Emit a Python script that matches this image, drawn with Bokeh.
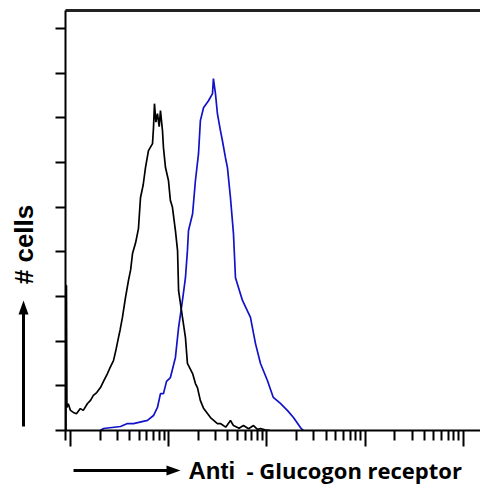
import math
from bokeh.plotting import figure
from bokeh.layouts import column, row
from bokeh.models import Range1d, FixedTicker, LinearAxis, ColumnDataSource
from bokeh.core.properties import value
from bokeh.embed import file_html
from bokeh.resources import INLINE

# ---- data ----
control_intensity = [0.90, 0.90, 0.91, 0.92, 0.95, 1.00, 1.07, 1.15, 1.26, 1.35, 1.49, 1.60, 1.71, 1.85,
                     2.02, 2.20, 2.38, 2.55, 2.74, 2.90, 3.08, 3.20, 3.38, 3.50, 3.63, 3.89, 4.10, 4.28,
                     4.60, 4.92, 5.16, 5.50, 5.80, 6.22, 6.84, 7.00, 7.16, 7.40, 7.68, 8.00, 8.24, 8.64,
                     8.84, 9.27, 9.94, 10.4, 10.9, 11.7, 12.3, 12.6, 13.8, 14.8, 15.5, 17.5, 18.7, 19.6,
                     21.0, 22.6, 24.8, 26.6, 31.3, 33.6, 38.0, 42.5, 45.6, 52.0, 57.6, 65.0, 72.9, 80.0,
                     85.9, 95.0, 108]
control_count = [0, 64.9, 64.9, 10.3, 12.0, 9.0, 8.1, 7.5, 9.8, 9.0, 12.1, 13.5, 15.7, 17.0,
                 19.2, 22.5, 25.5, 28.5, 31.3, 36.0, 41.6, 45.0, 50.6, 55.0, 59.5, 67.1, 72.0, 79.2,
                 84.0, 90.4, 104.2, 110.0, 117.7, 125.3, 128.4, 135.6, 146.3, 138.0, 141.8, 136.0, 143.2, 134.2,
                 126.6, 117.7, 111.9, 102.9, 100.0, 89.5, 80.5, 62.6, 50.6, 41.6, 30.0, 25.5, 21.0, 19.2,
                 13.4, 10.0, 7.6, 5.8, 3.1, 3.1, 1.5, 4.5, 2.2, 1.0, 2.2, 0.8, 2.2, 0.5,
                 0.9, 0.3, 0]

stained_intensity = [2.02, 2.17, 3.23, 3.80, 4.38, 6.08, 7.00, 7.68, 8.24, 8.84, 9.50, 10.4, 11.7, 12.6,
                     13.8, 14.8, 15.5, 15.9, 17.5, 18.7, 20.1, 21.0, 22.6, 25.4, 27.9, 28.5, 29.9, 31.3,
                     33.6, 35.2, 37.8, 39.6, 42.5, 45.6, 47.8, 56.3, 67.9, 76.4, 85.9, 101, 116, 137,
                     162, 186, 219, 235]
stained_count = [0, 0.9, 1.8, 3.1, 3.1, 4.5, 6.7, 10.3, 16.5, 16.5, 22.0, 23.7, 32.7, 46.1,
                 58.2, 68.4, 80.5, 89.5, 97.0, 111.9, 123.9, 138.7, 144.5, 147.6, 150.8, 157.5, 150.8, 141.8,
                 134.2, 129.7, 122.1, 117.7, 104.2, 88.1, 68.4, 58.2, 50.6, 38.9, 30.0, 22.4, 14.8, 12.1,
                 8.9, 5.8, 1.3, 0]

x_major_ticks = [1, 10, 100, 1000, 10000]
x_minor_multipliers = [2, 3, 4, 5, 6, 7, 8, 9]
x_extra_minor = [0.9]
y_ticks = [0, 20, 40, 60, 80, 100, 120, 140, 160, 180]

y_label = "# cells"
x_label_main = "Anti"
x_label_rest = "- Glucogon receptor"

# ---- main histogram figure ----
p = figure(width=435, height=460, x_axis_type="log",
           x_range=Range1d(0.89, 14900), y_range=Range1d(0, 188),
           output_backend="svg", toolbar_location=None,
           min_border_left=20, min_border_right=0, min_border_top=10, min_border_bottom=30)
p.outline_line_color = None
p.grid.visible = False
p.background_fill_color = "white"
p.border_fill_color = "white"

minor = x_extra_minor + [m * t for t in x_major_ticks[:-1] for m in x_minor_multipliers]
xax = p.xaxis[0]
xax.ticker = FixedTicker(ticks=x_major_ticks, minor_ticks=minor)
xax.major_label_overrides = {t: "" for t in x_major_ticks}
xax.major_label_standoff = 0
xax.axis_line_width = 2
xax.axis_line_color = "black"
xax.major_tick_line_width = 2
xax.minor_tick_line_width = 2
xax.major_tick_out = 16
xax.major_tick_in = 0
xax.minor_tick_out = 10
xax.minor_tick_in = 0

yax = p.yaxis[0]
yax.ticker = FixedTicker(ticks=y_ticks, minor_ticks=[])
yax.major_label_overrides = {t: "" for t in y_ticks}
yax.major_label_standoff = 0
yax.axis_line_width = 2
yax.major_tick_line_width = 2
yax.major_tick_out = 10
yax.major_tick_in = 0
yax.minor_tick_out = 0
yax.minor_tick_in = 0

top = LinearAxis(ticker=FixedTicker(ticks=[10], minor_ticks=[]), major_label_overrides={10: ""},
                 major_label_standoff=0, major_tick_out=0, major_tick_in=0,
                 minor_tick_out=0, minor_tick_in=0, major_tick_line_color=None,
                 axis_line_width=3, axis_line_color="#222222")
p.add_layout(top, "above")
right = LinearAxis(ticker=FixedTicker(ticks=[100], minor_ticks=[]), major_label_overrides={100: ""},
                   major_label_standoff=0, major_tick_out=0, major_tick_in=0,
                   minor_tick_out=0, minor_tick_in=0, major_tick_line_color=None,
                   axis_line_width=1, axis_line_color="#d4d4d4")
p.add_layout(right, "right")

src_c = ColumnDataSource(dict(x=control_intensity, y=control_count))
src_s = ColumnDataSource(dict(x=stained_intensity, y=stained_count))
p.line("x", "y", source=src_s, line_color="#1212c8", line_width=1.7)
p.line("x", "y", source=src_c, line_color="black", line_width=1.7)


def blank(w, h, y0=0, y1=None):
    f = figure(width=w, height=h, x_range=Range1d(0, w),
               y_range=Range1d(y0, h if y1 is None else y1),
               output_backend="svg", toolbar_location=None, min_border=0,
               x_axis_location=None, y_axis_location=None)
    f.outline_line_color = None
    f.grid.visible = False
    f.background_fill_color = "white"
    f.border_fill_color = "white"
    return f


# ---- left strip: y title with arrow (its frame is aligned with the chart frame) ----
pl = blank(45, 460, 30, 450)
pl.patch(x=[21.5, 21.5, 18, 23, 28, 24.5, 24.5], y=[34, 146, 146, 160, 146, 146, 34],
         fill_color="black", line_color=None)
pl.text(x=[23], y=[216], text=[y_label], angle=math.pi / 2,
        text_font=value("Liberation Sans"), text_font_style="bold", text_font_size="26px",
        text_color="black", text_align="center", text_baseline="alphabetic")

# ---- bottom strip: x title with arrow ----
pb = blank(480, 26)
pb.patch(x=[73, 166, 166, 180, 166, 166, 73], y=[14.5, 14.5, 11, 16, 21, 17.5, 17.5],
         fill_color="black", line_color=None)
pb.text(x=[188], y=[16.5], text=[x_label_main],
        text_font=value("Liberation Sans"), text_font_style="bold", text_font_size="24px",
        text_color="black", text_align="left", text_baseline="alphabetic")
pb.text(x=[246], y=[16.5], text=[x_label_rest],
        text_font=value("Open Sans"), text_font_style="bold", text_font_size="22px",
        text_color="black", text_align="left", text_baseline="alphabetic")

layout = column(row(pl, p, spacing=0), pb, spacing=0)
open("out.html", "w").write(file_html(layout, INLINE))
